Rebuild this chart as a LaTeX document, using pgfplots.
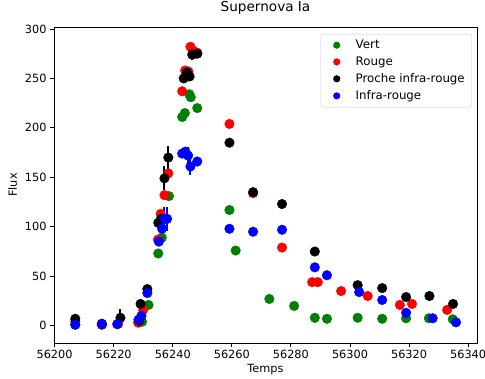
\documentclass[border=0pt]{standalone}
\usepackage{fontspec}
\setmainfont{DejaVu Sans}
\usepackage{pgfplots}
\pgfplotsset{compat=1.18}
\usepackage{pgfplotstable}
\definecolor{mgreen}{RGB}{0,128,0}

\pgfplotstableread{
x y e
56207.0 1 0
56216.0 1 0
56221.5 2 0
56229.6 4 4
56231.8 21 0
56235.1 73 0
56236.3 89 0
56238.7 131 0
56243.2 211 0
56244.1 215 0
56245.6 234 0
56246.1 231 0
56248.3 220 0
56259.2 117 4
56261.3 76 0
56272.7 27 0
56281.1 20 0
56288.1 8 5
56292.2 7 4
56302.6 8 0
56310.9 7 0
56319.0 7.5 0
56326.7 7.5 0
56334.8 6.5 0
}\vert

\pgfplotstableread{
x y e
56207.0 4 2
56216.0 1 0
56221.5 2 0
56228.3 3 2
56230.0 16 0
56235.0 87 0
56235.9 113 0
56237.2 132 0
56238.5 154 0
56243.2 237 0
56244.2 258 3
56245.3 257 0
56246.0 282 4
56246.9 278 0
56248.3 276 0
56259.2 204 0
56267.2 134 0
56277.0 79 0
56287.2 44 0
56289.1 44 0
56297.0 35 0
56306.0 30 0
56316.9 21 0
56321.0 22 0
56332.9 16 0
}\rouge

\pgfplotstableread{
x y e
56207.0 7 0
56216.0 2 0
56222.3 8 9
56228.6 5 0
56229.1 22 0
56231.4 37 0
56235.1 104 0
56236.0 108 0
56237.2 149 12
56238.5 170 12
56243.7 250 0
56244.8 256 0
56245.7 252 5
56246.6 274 5
56248.3 275 0
56259.2 185 4
56267.2 135 0
56277.0 123 0
56288.1 75 4
56302.6 41 0
56310.9 38 0
56319.0 29 0
56326.9 30 0
56334.9 22 0
}\proche

\pgfplotstableread{
x y e
56207.0 1 0
56216.0 1.5 0
56221.2 1.5 0
56228.4 6 0
56229.4 10 0
56231.4 33 0
56235.3 85 0
56236.4 98 0
56237.2 108 12
56238.1 108 12
56243.2 174 0
56244.3 176 0
56245.2 172 9
56246.0 161 9
56248.3 166 0
56259.2 98 0
56267.2 95 0
56277.0 97 0
56288.1 59 0
56292.2 51 0
56303.1 34 0
56310.9 26 0
56319.0 13 0
56328.0 7.5 0
56335.9 3.4 0
}\infra

\begin{document}
\begin{tikzpicture}
\begin{axis}[
  at={(0,0)}, anchor=south west,
  width=423pt, height=316pt, scale only axis,
  xmin=56199.8, xmax=56343, ymin=-17.5, ymax=302,
  xtick={56200,56220,...,56340},
  ytick={0,50,...,300},
  scaled x ticks=false,
  xticklabel style={/pgf/number format/.cd, 1000 sep={}, assume math mode=true},
  yticklabel style={/pgf/number format/assume math mode=true},
  tick label style={font=\fontsize{11.3}{13}\selectfont},
  tick align=outside, major tick length=4pt,
  xtick pos=bottom, ytick pos=left,
  axis line style={line width=0.9pt},
  every tick/.style={black, line width=0.9pt},
  title={Supernova Ia},
  title style={font=\fontsize{13.6}{16}\selectfont, at={(0.5,1)}, anchor=south, yshift=3pt},
  xlabel={Temps},
  ylabel={Flux},
  label style={font=\fontsize{11.3}{13}\selectfont},
  xlabel style={yshift=2pt},
  ylabel style={yshift=1pt},
  legend style={at={(0.988,0.978)}, anchor=north east, draw=black!20, rounded corners=2pt,
    font=\fontsize{11.8}{13.5}\selectfont, row sep=2.6pt, inner xsep=5pt, inner ysep=4pt},
  legend cell align=left,
  legend image code/.code={\path[draw=none, fill=none] (0pt,0pt) -- (28pt,0pt); \fill[#1, draw=none] (11pt,0pt) circle (3.6pt);},
  error bars/y dir=both, error bars/y explicit,
  error bars/error mark=none,
]
\addplot[only marks, mark=*, mark size=4.8pt, color=mgreen, error bars/error bar style={color=mgreen, line width=2pt}] table[x=x, y=y, y error=e] {\vert};
\addlegendentry{Vert}
\addplot[only marks, mark=*, mark size=4.8pt, color=red, error bars/error bar style={color=red, line width=2pt}] table[x=x, y=y, y error=e] {\rouge};
\addlegendentry{Rouge}
\addplot[only marks, mark=*, mark size=4.8pt, color=black, error bars/error bar style={color=black, line width=2pt}] table[x=x, y=y, y error=e] {\proche};
\addlegendentry{Proche infra-rouge}
\addplot[only marks, mark=*, mark size=4.8pt, color=blue, error bars/error bar style={color=blue, line width=2pt}] table[x=x, y=y, y error=e] {\infra};
\addlegendentry{Infra-rouge}
\end{axis}
\pgfresetboundingbox
\path[use as bounding box] (-54pt,-35pt) rectangle (431pt,343pt);
\end{tikzpicture}
\end{document}
